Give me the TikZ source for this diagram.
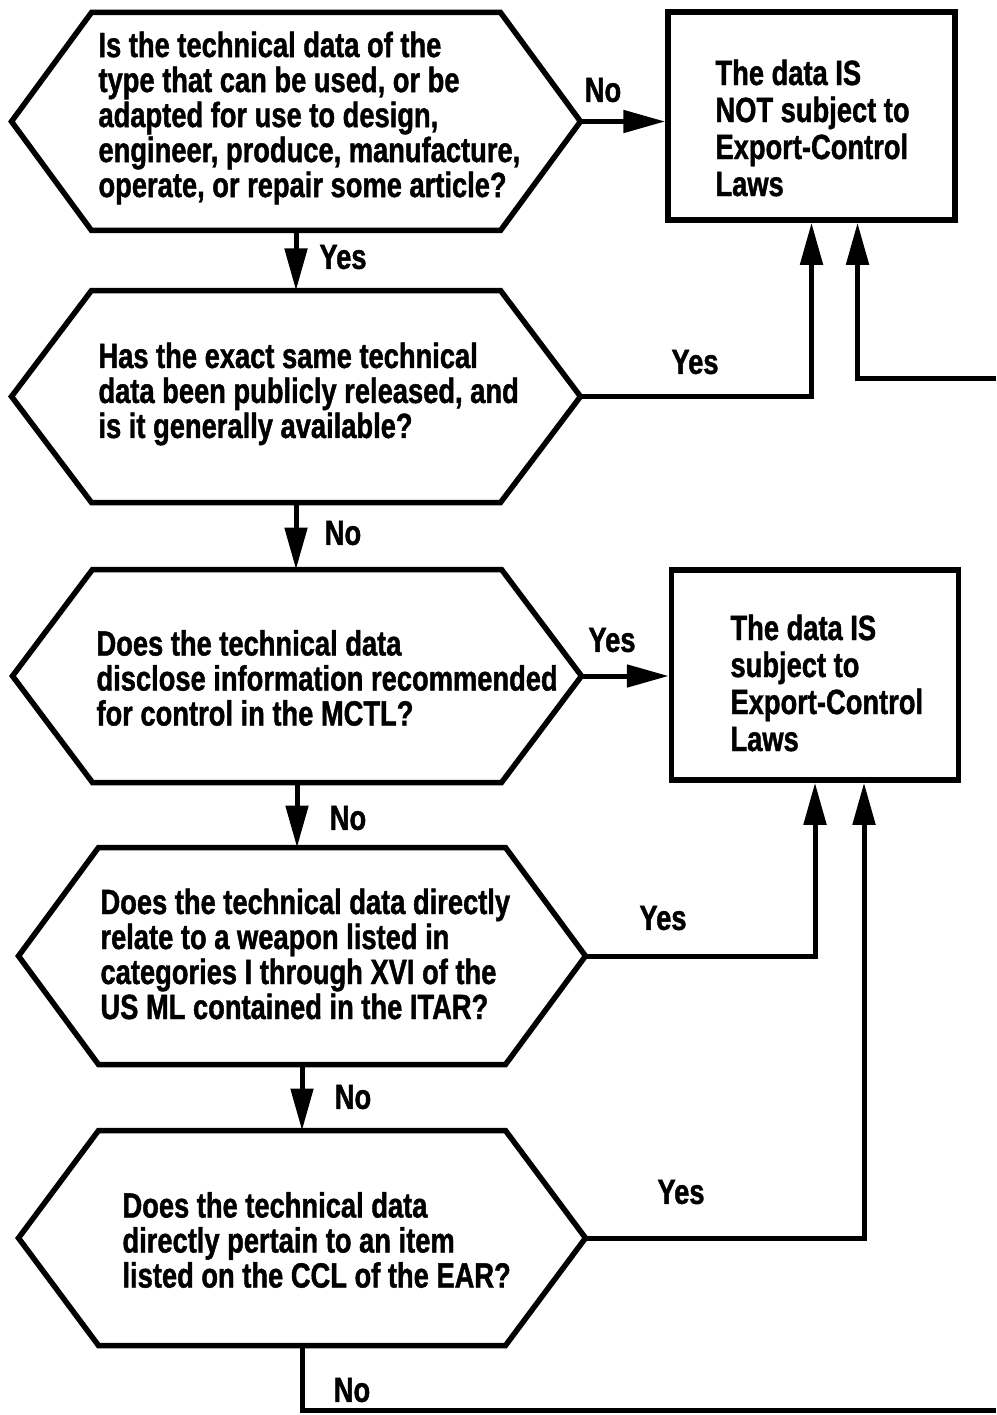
\documentclass[tikz,border=0pt]{standalone}
\usepackage{fontspec}
\setmainfont{Liberation Sans}[FakeStretch=0.78,FakeBold=1.2]
\usetikzlibrary{arrows.meta,calc}
\begin{document}
\begin{tikzpicture}[x=1pt,y=-1pt,
  line width=5pt,
  qtext/.style={font=\fontsize{35pt}{35pt}\selectfont\bfseries, align=left, inner sep=0pt},
  btext/.style={font=\fontsize{35pt}{37pt}\selectfont\bfseries, align=left, inner sep=0pt},
  lab/.style={font=\fontsize{35pt}{35pt}\selectfont\bfseries, inner sep=0pt},
  hexbody/.style={rectangle, inner sep=0pt, minimum width=#1},
  result/.style={draw, rectangle, inner sep=0pt, minimum width=287pt, line width=5.5pt},
  hexline/.style={line width=5.5pt, line join=miter},
  arr/.style={-{Triangle[length=42pt,width=22pt]}},
]
\useasboundingbox (0,0) rectangle (996,1415);

% question hexagons: body nodes between the slanted ends
\node[hexbody=404pt, minimum height=213pt] (h1) at (296,121.5) {};
\node[hexbody=404pt, minimum height=207pt] (h2) at (296,396.5) {};
\node[hexbody=404pt, minimum height=208pt] (h3) at (297,676) {};
\node[hexbody=402pt, minimum height=212pt] (h4) at (302,956) {};
\node[hexbody=402pt, minimum height=210pt] (h5) at (302,1238) {};

\foreach \h in {h1,h2,h3,h4,h5}{
  \coordinate (\h e) at ($(\h.east)+(80,0)$);
  \coordinate (\h w) at ($(\h.west)+(-80,0)$);
  \draw[hexline] (\h.north west) -- (\h.north east) -- (\h e) -- (\h.south east)
     -- (\h.south west) -- (\h w) -- cycle;
}

\node[qtext, anchor=west] (t1) at (96,118) {Is the technical data of the\\type that can be used, or be\\adapted for use to design,\\engineer, produce, manufacture,\\operate, or repair some article?};
\node[qtext, anchor=west] (t2) at (96,394) {Has the exact same technical\\data been publicly released, and\\is it generally available?};
\node[qtext, anchor=west] (t3) at (94,678) {Does the technical data\\disclose information recommended\\for control in the MCTL?};
\node[qtext, anchor=west] (t4) at (98,954) {Does the technical data directly\\relate to a weapon listed in\\categories I through XVI of the\\US ML contained in the ITAR?};
\node[qtext, anchor=west] (t5) at (120,1240) {Does the technical data\\directly pertain to an item\\listed on the CCL of the EAR?};

% outcome boxes
\node[result, minimum height=208pt] (b1) at (811.5,116) {};
\node[result, minimum height=210pt] (b2) at (815,675) {};
\node[btext, anchor=west] (bt1) at (713,128) {The data IS\\NOT subject to\\Export-Control\\Laws};
\node[btext, anchor=west] (bt2) at (728,683) {The data IS\\subject to\\Export-Control\\Laws};

% free ends of the two loop lines leaving the sheet
\coordinate (loopR) at (996,378);
\coordinate (loopB) at (996,1410);
\coordinate (b1p) at ($(b1.south)+(46,0)$);
\coordinate (b2p) at ($(b2.south)+(49,0)$);

% connectors
\draw[arr] (h1e) -- (h1e -| b1.west);
\draw[arr] (h1.south) -- (h2.north);
\draw[arr] (h2e) -| (b1.south);
\draw[arr] (loopR) -| (b1p);
\draw[arr] (h2.south) -- (h2.south |- h3.north);
\draw[arr] (h3e) -- (h3e -| b2.west);
\draw[arr] (h3.south) -- (h3.south |- h4.north);
\draw[arr] (h4e) -| (b2.south);
\draw[arr] (h4.south) -- (h5.north);
\draw[arr] (h5e) -| (b2p);
\draw (h5.south) |- (loopB);

% branch labels
\node[lab] (l1) at (603,90) {No};
\node[lab] (l2) at (343,257) {Yes};
\node[lab] (l3) at (695,362) {Yes};
\node[lab] (l4) at (343,533) {No};
\node[lab] (l5) at (612,640) {Yes};
\node[lab] (l6) at (348,818) {No};
\node[lab] (l7) at (663,918) {Yes};
\node[lab] (l8) at (353,1097) {No};
\node[lab] (l9) at (681,1192) {Yes};
\node[lab] (l10) at (352,1390) {No};
\end{tikzpicture}
\end{document}
